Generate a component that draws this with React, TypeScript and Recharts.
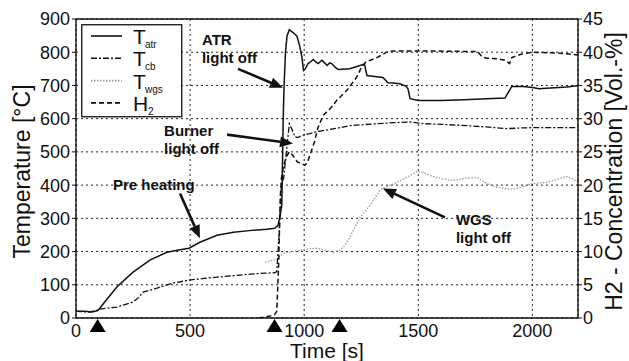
import React from 'react';
import {
  ComposedChart,
  Line,
  XAxis,
  YAxis,
  CartesianGrid,
  ReferenceLine,
  ReferenceDot,
  Legend,
} from 'recharts';

// ---------- data ----------
const timeTicks = [0, 500, 1000, 1500, 2000];
const tempTicks = [0, 100, 200, 300, 400, 500, 600, 700, 800, 900];
const h2Ticks = [0, 5, 10, 15, 20, 25, 30, 35, 40, 45];

const tAtr = [
  { t: 0, v: 20 }, { t: 40, v: 20 }, { t: 70, v: 18 }, { t: 95, v: 22 }, { t: 105, v: 30 },
  { t: 140, v: 60 }, { t: 180, v: 94 }, { t: 250, v: 138 }, { t: 324, v: 174 }, { t: 398, v: 198 },
  { t: 450, v: 205 }, { t: 495, v: 210 }, { t: 543, v: 228 }, { t: 618, v: 249 }, { t: 690, v: 258 },
  { t: 760, v: 263 }, { t: 836, v: 267 }, { t: 870, v: 270 }, { t: 885, v: 278 }, { t: 895, v: 310 },
  { t: 902, v: 340 }, { t: 908, v: 600 }, { t: 912, v: 700 }, { t: 918, v: 800 }, { t: 925, v: 850 },
  { t: 935, v: 868 }, { t: 950, v: 860 }, { t: 968, v: 849 }, { t: 980, v: 820 }, { t: 990, v: 785 },
  { t: 997, v: 745 }, { t: 1005, v: 750 }, { t: 1017, v: 766 }, { t: 1030, v: 772 }, { t: 1040, v: 778 },
  { t: 1052, v: 770 }, { t: 1061, v: 766 }, { t: 1078, v: 776 }, { t: 1090, v: 768 }, { t: 1100, v: 760 },
  { t: 1112, v: 768 }, { t: 1122, v: 765 }, { t: 1135, v: 755 }, { t: 1150, v: 748 }, { t: 1200, v: 750 },
  { t: 1258, v: 763 }, { t: 1265, v: 762 }, { t: 1275, v: 730 }, { t: 1300, v: 728 }, { t: 1345, v: 724 },
  { t: 1367, v: 708 }, { t: 1390, v: 707 }, { t: 1420, v: 705 }, { t: 1445, v: 698 }, { t: 1455, v: 690 },
  { t: 1464, v: 660 }, { t: 1500, v: 655 }, { t: 1600, v: 655 }, { t: 1700, v: 657 }, { t: 1800, v: 660 },
  { t: 1880, v: 662 }, { t: 1895, v: 680 }, { t: 1910, v: 697 }, { t: 1960, v: 697 }, { t: 2000, v: 694 },
  { t: 2030, v: 690 }, { t: 2080, v: 692 }, { t: 2150, v: 695 }, { t: 2200, v: 699 },
];

const tCb = [
  { t: 0, v: 20 }, { t: 60, v: 18 }, { t: 95, v: 24 }, { t: 105, v: 27 }, { t: 180, v: 33 },
  { t: 250, v: 48 }, { t: 275, v: 62 }, { t: 294, v: 78 }, { t: 355, v: 90 }, { t: 425, v: 105 },
  { t: 495, v: 114 }, { t: 560, v: 119 }, { t: 618, v: 123 }, { t: 700, v: 128 }, { t: 763, v: 132 },
  { t: 830, v: 135 }, { t: 870, v: 136 }, { t: 880, v: 140 }, { t: 890, v: 250 }, { t: 900, v: 400 },
  { t: 910, v: 420 }, { t: 925, v: 520 }, { t: 935, v: 585 }, { t: 945, v: 570 }, { t: 960, v: 545 },
  { t: 973, v: 543 }, { t: 990, v: 550 }, { t: 1025, v: 555 }, { t: 1050, v: 560 }, { t: 1083, v: 564 },
  { t: 1150, v: 572 }, { t: 1200, v: 579 }, { t: 1320, v: 585 }, { t: 1400, v: 588 }, { t: 1464, v: 590 },
  { t: 1520, v: 585 }, { t: 1600, v: 583 }, { t: 1713, v: 579 }, { t: 1800, v: 575 }, { t: 1888, v: 570 },
  { t: 1950, v: 572 }, { t: 2003, v: 573 }, { t: 2100, v: 573 }, { t: 2200, v: 573 },
];

const tWgs = [
  { t: 828, v: 168 }, { t: 850, v: 172 }, { t: 880, v: 176 }, { t: 908, v: 195 }, { t: 950, v: 200 },
  { t: 982, v: 204 }, { t: 1020, v: 208 }, { t: 1056, v: 210 }, { t: 1090, v: 205 }, { t: 1128, v: 198 },
  { t: 1157, v: 204 }, { t: 1180, v: 220 }, { t: 1200, v: 243 }, { t: 1245, v: 303 }, { t: 1289, v: 339 },
  { t: 1332, v: 385 }, { t: 1345, v: 390 }, { t: 1407, v: 408 }, { t: 1464, v: 429 }, { t: 1494, v: 441 },
  { t: 1520, v: 438 }, { t: 1551, v: 429 }, { t: 1600, v: 420 }, { t: 1652, v: 414 }, { t: 1700, v: 420 },
  { t: 1757, v: 423 }, { t: 1800, v: 405 }, { t: 1845, v: 393 }, { t: 1915, v: 387 }, { t: 1960, v: 396 },
  { t: 2003, v: 405 }, { t: 2064, v: 408 }, { t: 2110, v: 418 }, { t: 2152, v: 426 }, { t: 2180, v: 418 },
  { t: 2200, v: 408 },
];

const h2 = [
  { t: 800, v: 0 }, { t: 850, v: 0.3 }, { t: 870, v: 0.5 }, { t: 880, v: 1 }, { t: 888, v: 8 },
  { t: 895, v: 18 }, { t: 900, v: 21 }, { t: 910, v: 23 }, { t: 925, v: 24.5 }, { t: 935, v: 25 },
  { t: 950, v: 24.5 }, { t: 970, v: 23.5 }, { t: 990, v: 23.2 }, { t: 1004, v: 23 }, { t: 1015, v: 23.5 },
  { t: 1025, v: 24.5 }, { t: 1045, v: 26.5 }, { t: 1060, v: 28.6 }, { t: 1083, v: 30.5 }, { t: 1114, v: 31.5 },
  { t: 1144, v: 32.8 }, { t: 1188, v: 34.3 }, { t: 1231, v: 36.3 }, { t: 1253, v: 37.9 }, { t: 1270, v: 38.5 },
  { t: 1319, v: 39.2 }, { t: 1367, v: 40.1 }, { t: 1390, v: 40.2 }, { t: 1500, v: 40.2 }, { t: 1760, v: 40.1 },
  { t: 1780, v: 39.3 }, { t: 1800, v: 39.1 }, { t: 1850, v: 39 }, { t: 1880, v: 38.8 }, { t: 1900, v: 38.3 },
  { t: 1910, v: 39.2 }, { t: 1950, v: 39.7 }, { t: 2003, v: 40 }, { t: 2100, v: 39.9 }, { t: 2200, v: 39.6 },
];

const markerTimes = [95, 870, 1155];

const legendItems = [
  { main: 'T', sub: 'atr', dash: undefined as string | undefined, color: '#111' },
  { main: 'T', sub: 'cb', dash: '6 2 2 2', color: '#111' },
  { main: 'T', sub: 'wgs', dash: '1.5 1.5', color: '#9a9a9a' },
  { main: 'H', sub: '2', dash: '5 3', color: '#111' },
];

const annotations = [
  { lines: ['ATR', 'light off'], t: 552, v: 822 },
  { lines: ['Burner', 'light off'], t: 386, v: 549 },
  { lines: ['Pre heating'], t: 162, v: 384 },
  { lines: ['WGS', 'light off'], t: 1665, v: 279 },
];

const arrows = [
  { t1: 710, v1: 750, t2: 907, v2: 693 },
  { t1: 662, v1: 552, t2: 951, v2: 525 },
  { t1: 456, v1: 375, t2: 543, v2: 240 },
  { t1: 1617, v1: 303, t2: 1345, v2: 390 },
];

// ---------- styles ----------
const FONT = '"Liberation Sans", Arial, Helvetica, sans-serif';
const W = 629;
const H = 361;

const ArrowShape = (props: any) => {
  const { x1, y1, x2, y2 } = props;
  if ([x1, y1, x2, y2].some((n) => typeof n !== 'number' || isNaN(n))) return null;
  const dx = x2 - x1;
  const dy = y2 - y1;
  const len = Math.sqrt(dx * dx + dy * dy);
  const ux = dx / len;
  const uy = dy / len;
  const hl = 13;
  const hw = 5.5;
  const bx = x2 - ux * hl;
  const by = y2 - uy * hl;
  const px = -uy;
  const py = ux;
  return (
    <g>
      <line x1={x1} y1={y1} x2={bx} y2={by} stroke="#111" strokeWidth={2.6} />
      <polygon
        points={`${x2},${y2} ${bx + px * hw},${by + py * hw} ${bx - px * hw},${by - py * hw}`}
        fill="#111"
      />
    </g>
  );
};

const makeTextShape = (lines: string[]) => (props: any) => {
  const { cx, cy } = props;
  return (
    <text x={cx} y={cy} fontFamily={FONT} fontWeight="bold" fontSize={15} fill="#111">
      {lines.map((l, i) => (
        <tspan key={i} x={cx} dy={i === 0 ? 0 : 18}>
          {l}
        </tspan>
      ))}
    </text>
  );
};

const TriangleShape = (props: any) => {
  const { cx, cy } = props;
  return <polygon points={`${cx},${cy + 1} ${cx - 8},${cy + 14} ${cx + 8},${cy + 14}`} fill="#000" />;
};

const LegendBox = () => (
  <svg width={102} height={94} style={{ display: 'block' }}>
    <rect x={0.75} y={0.75} width={100} height={92} fill="#fff" stroke="#111" strokeWidth={1.3} />
    {legendItems.map((it, i) => {
      const y = 12 + i * 22.3;
      return (
        <g key={i}>
          <line x1={10} x2={41} y1={y} y2={y} stroke={it.color} strokeWidth={1.6} strokeDasharray={it.dash} />
          <text x={52} y={y + 8} fontFamily={FONT} fontSize={21} fill="#111">
            {it.main}
          </text>
          <text x={it.main === 'H' ? 67 : 64} y={y + 12} fontFamily={FONT} fontSize={10} fill="#111">
            {it.sub}
          </text>
        </g>
      );
    })}
  </svg>
);

const LeftLabel = (props: any) => {
  const vb = props.viewBox || { x: 0, y: 19, width: 76, height: 299 };
  const x = vb.x + 30;
  const y = vb.y + vb.height / 2 + 3;
  return (
    <text x={x} y={y} transform={`rotate(-90 ${x} ${y})`} textAnchor="middle" fontFamily={FONT} fontSize={23} fill="#111">
      Temperature [°C]
    </text>
  );
};

const RightLabel = (props: any) => {
  const vb = props.viewBox || { x: 578, y: 19, width: 51, height: 299 };
  const x = vb.x + 44;
  const y = vb.y + vb.height / 2 + 3;
  return (
    <text x={x} y={y} transform={`rotate(-90 ${x} ${y})`} textAnchor="middle" fontFamily={FONT} fontSize={23} fill="#111">
      H2 - Concentration [Vol.-%]
    </text>
  );
};

const BottomLabel = (props: any) => {
  const vb = props.viewBox || { x: 76, y: 318, width: 502, height: 43 };
  const x = vb.x + vb.width / 2;
  const y = vb.y + 40;
  return (
    <text x={x} y={y} textAnchor="middle" fontFamily={FONT} fontSize={21} fill="#111">
      Time [s]
    </text>
  );
};

export default function App() {
  const tickStyle = { fontSize: 18, fill: '#111', fontFamily: FONT };
  return (
    <div style={{ position: 'absolute', left: 0, top: 0, width: W, height: H, background: '#fff' }}>
      <ComposedChart width={W} height={H} margin={{ top: 19, right: 0, bottom: 0, left: 0 }}>
        <CartesianGrid
          yAxisId="temp"
          stroke="#222"
          strokeDasharray="2 3"
          strokeWidth={1}
        />
        <XAxis
          dataKey="t"
          type="number"
          domain={[0, 2200]}
          ticks={timeTicks}
          interval={0}
          height={43}
          tickLine={false}
          tickSize={4}
          tickMargin={2}
          tick={tickStyle}
          axisLine={{ stroke: '#111', strokeWidth: 1.4 }}
          allowDataOverflow
          label={BottomLabel}
        />
        <YAxis
          yAxisId="temp"
          type="number"
          domain={[0, 900]}
          ticks={tempTicks}
          interval={0}
          width={76}
          tickSize={4}
          tickMargin={2}
          tick={tickStyle}
          tickLine={{ stroke: '#111' }}
          axisLine={{ stroke: '#111', strokeWidth: 1.4 }}
          allowDataOverflow
          label={LeftLabel}
        />
        <YAxis
          yAxisId="h2"
          orientation="right"
          type="number"
          domain={[0, 45]}
          ticks={h2Ticks}
          interval={0}
          width={51}
          tickSize={4}
          tickMargin={1}
          tick={tickStyle}
          tickLine={{ stroke: '#111' }}
          axisLine={{ stroke: '#111', strokeWidth: 1.4 }}
          allowDataOverflow
          label={RightLabel}
        />
        <ReferenceLine yAxisId="temp" y={900} stroke="#111" strokeWidth={1.4} />
        <Line
          data={tWgs}
          dataKey="v"
          yAxisId="temp"
          type="linear"
          stroke="#9a9a9a"
          strokeWidth={1.3}
          strokeDasharray="1.5 1.5"
          dot={false}
          isAnimationActive={false}
        />
        <Line
          data={tCb}
          dataKey="v"
          yAxisId="temp"
          type="linear"
          stroke="#111"
          strokeWidth={1.3}
          strokeDasharray="6 2 2 2"
          dot={false}
          isAnimationActive={false}
        />
        <Line
          data={h2}
          dataKey="v"
          yAxisId="h2"
          type="linear"
          stroke="#111"
          strokeWidth={1.5}
          strokeDasharray="5 3"
          dot={false}
          isAnimationActive={false}
        />
        <Line
          data={tAtr}
          dataKey="v"
          yAxisId="temp"
          type="linear"
          stroke="#111"
          strokeWidth={1.5}
          dot={false}
          isAnimationActive={false}
        />
        {arrows.map((a, i) => (
          <ReferenceLine
            key={`arr${i}`}
            yAxisId="temp"
            segment={[{ x: a.t1, y: a.v1 }, { x: a.t2, y: a.v2 }]}
            shape={ArrowShape}
            ifOverflow="visible"
          />
        ))}
        {annotations.map((a, i) => (
          <ReferenceDot
            key={`ann${i}`}
            yAxisId="temp"
            x={a.t}
            y={a.v}
            r={0}
            shape={makeTextShape(a.lines)}
            ifOverflow="visible"
          />
        ))}
        {markerTimes.map((t, i) => (
          <ReferenceDot
            key={`m${i}`}
            yAxisId="temp"
            x={t}
            y={0}
            r={0}
            shape={TriangleShape}
            ifOverflow="visible"
          />
        ))}
        <Legend
          layout="horizontal"
          verticalAlign="middle"
          align="center"
          content={LegendBox}
          wrapperStyle={{ position: 'absolute', left: 81, top: 24, width: 102, height: 94 }}
        />
      </ComposedChart>
    </div>
  );
}
